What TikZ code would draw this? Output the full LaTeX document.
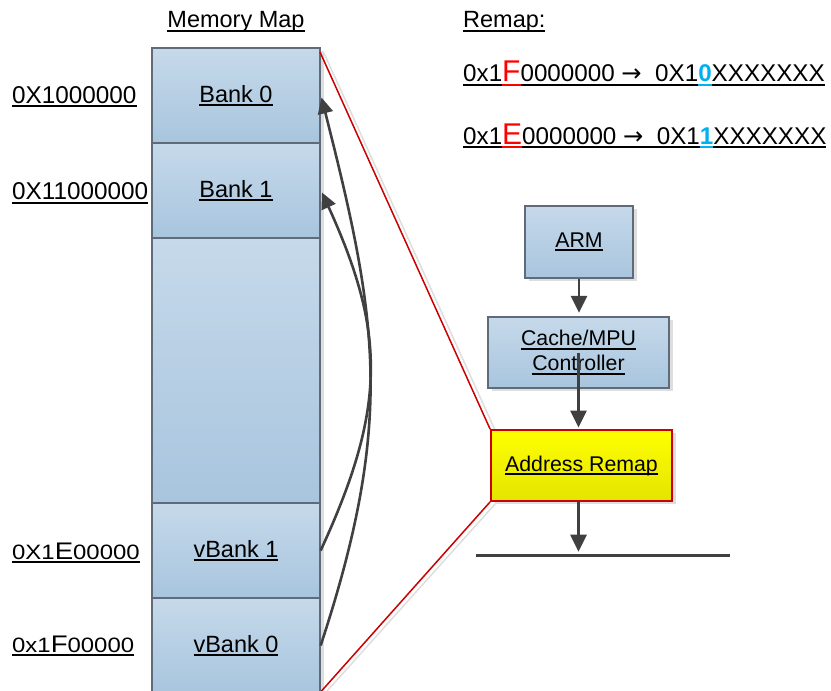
\documentclass[tikz,border=0pt]{standalone}
\usepackage{fontspec}
\setmainfont{Liberation Sans}
\newfontfamily\widefont{Liberation Sans}[FakeStretch=1.15]
\newfontfamily\arrowfont{DejaVu Sans}
\usetikzlibrary{arrows.meta,shadows}
\definecolor{boxtop}{HTML}{C6D9EA}
\definecolor{boxbot}{HTML}{A8C5DE}
\definecolor{boxline}{HTML}{5F6B78}
\definecolor{arr}{HTML}{404040}
\definecolor{redF}{HTML}{FF0000}
\definecolor{blueD}{HTML}{00B0F0}
\definecolor{redln}{HTML}{CC0000}
\definecolor{ytop}{HTML}{FFFF00}
\definecolor{ybot}{HTML}{E4E400}
\newsavebox\myulbox
\newcommand{\uln}[1]{\sbox\myulbox{#1}\rlap{\rule[-4pt]{\wd\myulbox}{2pt}}\usebox\myulbox}
\newcommand{\bigch}[1]{{\fontsize{30}{30}\selectfont #1}}
\newcommand{\labch}[1]{{\fontsize{24}{24}\selectfont #1}}
\newcommand{\myarrow}{{\arrowfont →}}
\begin{document}
\begin{tikzpicture}[x=1pt,y=-1pt,
  big/.style={font=\fontsize{23.5}{27}\selectfont},
  remapline/.style={font=\fontsize{24.2}{27}\selectfont, anchor=base west, inner sep=0pt},
  addr/.style={font=\fontsize{24.3}{28}\selectfont, anchor=base west, inner sep=0pt},
  small/.style={font=\fontsize{21.3}{25}\selectfont},
  lab/.style={font=\widefont\fontsize{20.8}{26}\selectfont, anchor=base west, inner sep=0pt},
  shad/.style={drop shadow={shadow xshift=4pt, shadow yshift=-3pt, fill=black!13, opacity=1}},
  membox/.style={rectangle, draw=boxline, line width=1.3pt, top color=boxtop, bottom color=boxbot,
    minimum width=168pt, inner sep=0pt, big, shad},
  rbox/.style={rectangle, draw=boxline, line width=1.3pt, top color=boxtop, bottom color=boxbot,
    inner sep=0pt, small, shad},
  ybox/.style={rectangle, draw=redln, line width=1.8pt, top color=ytop, bottom color=ybot,
    inner sep=0pt, small, shad},
  varrow/.style={draw=arr, line width=2.8pt, -{Triangle[width=16pt,length=17pt]}},
  carrow/.style={draw=arr, line width=2.6pt, -{Triangle[width=15pt,length=16pt]}},
  busline/.style={draw=arr, line width=2.5pt},
  redline/.style={draw=redln, line width=1.5pt},
  redshadow/.style={draw=black!13, line width=1.5pt}
]
\useasboundingbox (0,0) rectangle (831,691);
\clip (0,0) rectangle (831,691);

% memory column
\node[membox, minimum height=95pt] (bank0) at (236,95.5) {\uln{Bank 0}};
\node[membox, minimum height=95pt] (bank1) at (236,190.5) {\uln{Bank 1}};
\node[membox, minimum height=265pt] (mid) at (236,370.5) {};
\node[membox, minimum height=95pt] (vbank1) at (236,550.5) {\uln{vBank 1}};
\node[membox, minimum height=95pt] (vbank0) at (236,645.5) {\uln{vBank 0}};

% titles and labels
\node[big, anchor=base, inner sep=0pt] (title) at (236,27.5) {\uln{Memory Map}};
\node[addr] (lab0) at (12,103) {\uln{0X1000000}};
\node[addr] (lab1) at (12,199.5) {\uln{0X11000000}};
\node[lab] (labE) at (12,559) {\uln{0X1\labch{E}00000}};
\node[lab] (labF) at (12,652) {\uln{0x1\labch{F}00000}};

\node[big, anchor=base west, inner sep=0pt] (remaptitle) at (463,27.5) {\uln{Remap:}};
\node[remapline] (r1) at (463,81.7)
  {\uln{0x1}\textcolor{redF}{\uln{\bigch{F}}}\uln{0000000 \myarrow\ \ 0X1}\textcolor{blueD}{\uln{\bfseries 0}}\uln{XXXXXXX}};
\node[remapline] (r2) at (463,144)
  {\uln{0x1}\textcolor{redF}{\uln{\bigch{E}}}\uln{0000000 \myarrow\ \ 0X1}\textcolor{blueD}{\uln{\bfseries 1}}\uln{XXXXXXX}};

% curved arrows
\coordinate (bank1tip) at (322,192.5);
\coordinate (bank0tip) at (321.5,97.5);
\draw[carrow] (vbank1.east) .. controls (387,407) and (385.5,332) .. (bank1tip);
\draw[carrow] (vbank0.east) .. controls (395,420) and (377.6,319) .. (bank0tip);

% right side blocks
\node[rbox, minimum width=108pt, minimum height=72pt] (arm) at (579,242) {\uln{ARM}};
\node[rbox, minimum width=181pt, minimum height=71pt, align=center] (cache) at (578.5,352.5)
  {\uln{Cache/MPU}\\\uln{Controller}};

% red zoom lines
\coordinate (redA) at (320,52);
\coordinate (redAs) at (324,53);
\coordinate (redB) at (321.5,691);
\coordinate (redBs) at (327,691);
\coordinate (remapNWs) at (495,430);
\coordinate (remapSWs) at (496,503);
\draw[redshadow] (redAs) -- (remapNWs);
\draw[redshadow] (remapSWs) -- (redBs);

\node[ybox, minimum width=181pt, minimum height=71pt] (remap) at (581.5,465.5) {\uln{Address Remap}};

\draw[redline] (redA) -- (remap.north west);
\draw[redline] (remap.south west) -- (redB);

% bus
\coordinate (busL) at (476,555.7);
\coordinate (busR) at (730,555.7);
\draw[busline] (busL) -- (busR);

% vertical arrows
\draw[varrow, shorten >=3.5pt] (arm.south) -- (arm.south |- cache.north);
\draw[varrow, shorten >=1.5pt] (cache.center) -- (cache.center |- remap.north);
\draw[varrow, shorten >=4pt] (cache.center |- remap.south) -- (cache.center |- busL);
\end{tikzpicture}
\end{document}
